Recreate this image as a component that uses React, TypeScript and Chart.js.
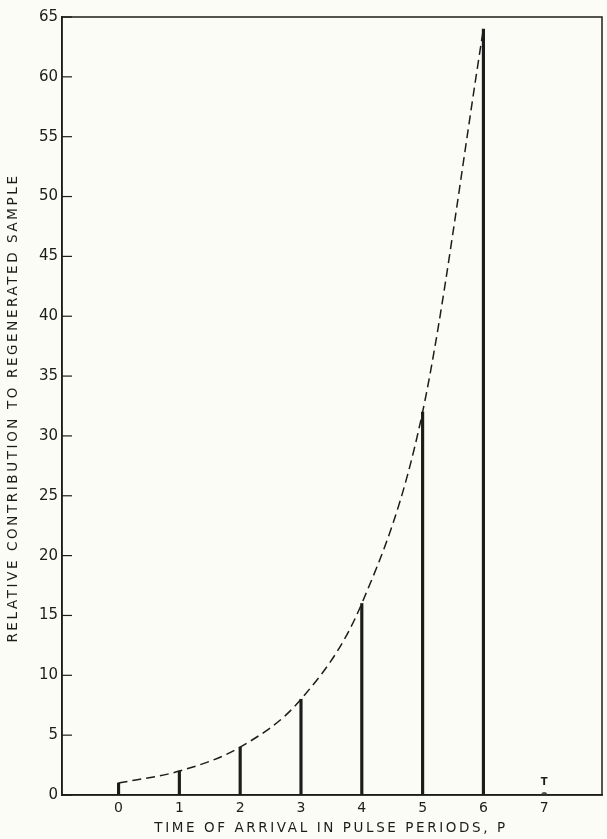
import React, { useEffect, useRef } from "react";
import { Chart, registerables } from "chart.js";

Chart.register(...registerables);

const periods = [0, 1, 2, 3, 4, 5, 6];
const contributions = [1, 2, 4, 8, 16, 32, 64];
const markerPeriods = [7];
const markerValues = [0];
const markerLabels = ["T"];
const xTickValues = [0, 1, 2, 3, 4, 5, 6, 7];
const yTickValues = [0, 5, 10, 15, 20, 25, 30, 35, 40, 45, 50, 55, 60, 65];
const xTitle = "TIME OF ARRIVAL IN PULSE PERIODS, P";
const yTitle = "RELATIVE CONTRIBUTION TO REGENERATED SAMPLE";

const INK = "#1c1c1a";
const BG = "#fcfcf6";
const FONT = "'DejaVu Sans', sans-serif";

const decorPlugin = {
  id: "decor",
  afterDraw(chart: any) {
    const { ctx, chartArea, scales } = chart;
    const { left, right, top, bottom } = chartArea;
    ctx.save();
    // frame
    ctx.strokeStyle = INK;
    ctx.lineWidth = 1.5;
    ctx.strokeRect(left, top, right - left, bottom - top);
    // inward y ticks
    ctx.lineWidth = 1.2;
    yTickValues.forEach((v) => {
      const y = scales.y.getPixelForValue(v);
      ctx.beginPath();
      ctx.moveTo(left, y);
      ctx.lineTo(left + 10, y);
      ctx.stroke();
    });
    // marker labels
    ctx.fillStyle = INK;
    ctx.font = `bold 10px ${FONT}`;
    ctx.textAlign = "center";
    ctx.textBaseline = "bottom";
    markerPeriods.forEach((p, i) => {
      const x = scales.x.getPixelForValue(p);
      const y = scales.y.getPixelForValue(markerValues[i]);
      ctx.fillText(markerLabels[i], x, y - 8);
    });
    // titles
    ctx.font = `13.5px ${FONT}`;
    (ctx as any).letterSpacing = "2.6px";
    ctx.textBaseline = "middle";
    ctx.textAlign = "center";
    ctx.fillText(xTitle, 331, 828);
    ctx.translate(13, 408);
    ctx.rotate(-Math.PI / 2);
    ctx.fillText(yTitle, 0, 0);
    ctx.restore();
  },
};

export default function App() {
  const canvasRef = useRef<HTMLCanvasElement | null>(null);

  useEffect(() => {
    if (!canvasRef.current) return;
    const chart = new Chart(canvasRef.current, {
      type: "bar",
      data: {
        datasets: [
          {
            type: "bar",
            data: periods.map((p, i) => ({ x: p, y: contributions[i] })),
            backgroundColor: INK,
            borderWidth: 0,
            barThickness: 2.5,
            order: 2,
          } as any,
          {
            type: "line",
            data: periods.map((p, i) => ({ x: p, y: contributions[i] })),
            borderColor: INK,
            borderWidth: 1.5,
            borderDash: [9, 5],
            pointRadius: 0,
            cubicInterpolationMode: "monotone",
            fill: false,
            order: 1,
          } as any,
          {
            type: "line",
            data: markerPeriods.map((p, i) => ({ x: p, y: markerValues[i] })),
            showLine: false,
            pointRadius: 3,
            pointBackgroundColor: "#555550",
            pointBorderWidth: 0,
            order: 0,
          } as any,
        ],
      },
      options: {
        animation: false,
        responsive: false,
        maintainAspectRatio: false,
        layout: { padding: { left: 0, top: 17, right: 5, bottom: 0 } },
        plugins: {
          legend: { display: false },
          tooltip: { enabled: false },
        },
        scales: {
          x: {
            type: "linear",
            min: -0.93,
            max: 7.95,
            offset: false,
            afterBuildTicks: (scale: any) => {
              scale.ticks = xTickValues.map((v) => ({ value: v }));
            },
            afterFit: (scale: any) => {
              scale.height = 44;
            },
            grid: { display: false, drawTicks: false },
            border: { display: true, color: INK, width: 1.5 },
            ticks: {
              color: INK,
              font: { family: FONT, size: 14 },
              padding: 5,
              maxRotation: 0,
              autoSkip: false,
            },
          },
          y: {
            type: "linear",
            min: 0,
            max: 65,
            afterBuildTicks: (scale: any) => {
              scale.ticks = yTickValues.map((v) => ({ value: v }));
            },
            afterFit: (scale: any) => {
              scale.width = 62;
            },
            grid: { display: false, drawTicks: false },
            border: { display: true, color: INK, width: 1.5 },
            ticks: {
              color: INK,
              font: { family: FONT, size: 15 },
              padding: 4,
              autoSkip: false,
            },
          },
        },
      },
      plugins: [decorPlugin],
    } as any);
    return () => chart.destroy();
  }, []);

  return (
    <div
      style={{
        position: "absolute",
        left: 0,
        top: 0,
        width: 607,
        height: 839,
        background: BG,
      }}
    >
      <canvas ref={canvasRef} width={607} height={839} style={{ display: "block" }} />
    </div>
  );
}
